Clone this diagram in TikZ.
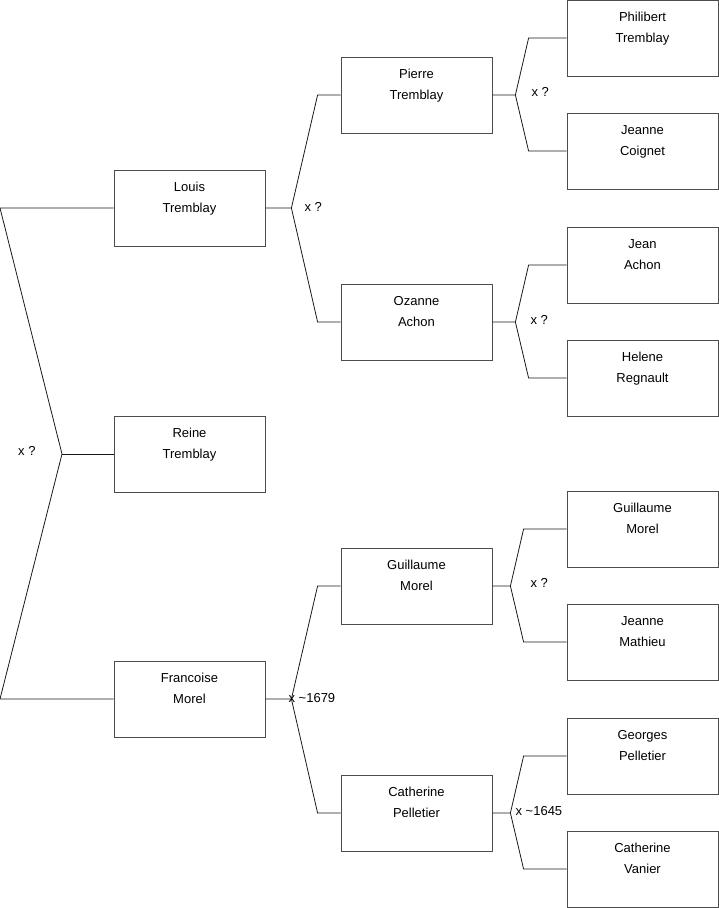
\documentclass[tikz,border=0pt]{standalone}
\usepackage{fontspec}
\setmainfont{Liberation Sans}
\usetikzlibrary{calc}
\tikzset{
  person/.style={draw=black!70, line width=0.8pt, minimum width=151pt,
    minimum height=76pt, inner sep=0pt, text width=151pt, align=center,
    font=\fontsize{13}{21}\selectfont},
  link/.style={draw=black!90, line width=0.8pt},
  wed/.style={anchor=west, inner sep=0pt, font=\fontsize{13}{15}\selectfont}
}
% one box per person: name, position, first name, family name
\newcommand{\person}[4]{%
  \node[person] (#1) at #2 {#3\\#4\\[-6pt]\strut};%
}
% parent to its two parents: parent, upper, lower, junction offset, bend offset
\newcommand{\couple}[5]{%
  \coordinate (#1-j) at ($(#1.east)+(#4,0)$);
  \draw[link] (#1.east) -- (#1-j) -- ($(#2.west)+(-#5,0)$) -- (#2.west);
  \draw[link] (#1-j) -- ($(#3.west)+(-#5,0)$) -- (#3.west);%
}

\begin{document}
\begin{tikzpicture}[x=1pt, y=-1pt]

  \useasboundingbox (0,0) rectangle (719,908);

  % first column
  \person{louis}{(189.5,208)}{Louis}{Tremblay}
  \person{reine}{(189.5,454)}{Reine}{Tremblay}
  \person{francoise}{(189.5,699)}{Francoise}{Morel}

  % second column
  \person{pierre}{(416.5,95)}{Pierre}{Tremblay}
  \person{ozanne}{(416.5,322)}{Ozanne}{Achon}
  \person{guillaume}{(416.5,586)}{Guillaume}{Morel}
  \person{catherinep}{(416.5,813)}{Catherine}{Pelletier}

  % third column
  \person{philibert}{(642.5,38)}{Philibert}{Tremblay}
  \person{coignet}{(642.5,151)}{Jeanne}{Coignet}
  \person{jean}{(642.5,265)}{Jean}{Achon}
  \person{helene}{(642.5,378)}{Helene}{Regnault}
  \person{gmorel}{(642.5,529)}{Guillaume}{Morel}
  \person{mathieu}{(642.5,642)}{Jeanne}{Mathieu}
  \person{georges}{(642.5,756)}{Georges}{Pelletier}
  \person{vanier}{(642.5,869)}{Catherine}{Vanier}

  % siblings on the left
  \coordinate (root-a) at (0,208);
  \coordinate (root-j) at (62,454);
  \coordinate (root-b) at (0,699);
  \draw[link] (louis.west) -- (root-a) -- (root-j) -- (root-b) -- (francoise.west);
  \draw[link] (root-j) -- (reine.west);
  \node[wed] (l-root) at (18,451) {x ?};

  % couples
  \couple{louis}{pierre}{ozanne}{26}{23}
  \couple{francoise}{guillaume}{catherinep}{26}{23}
  \couple{pierre}{philibert}{coignet}{23}{38}
  \couple{ozanne}{jean}{helene}{23}{38}
  \couple{guillaume}{gmorel}{mathieu}{18}{43}
  \couple{catherinep}{georges}{vanier}{18}{43}

  \node[wed] (l-louis) at ($(louis-j)+(13,-1)$) {x ?};
  \node[wed] (l-francoise) at ($(francoise-j)+(-3,-1)$) {x \textasciitilde 1679};
  \node[wed] (l-pierre) at ($(pierre-j)+(16,-3)$) {x ?};
  \node[wed] (l-ozanne) at ($(ozanne-j)+(15,-2)$) {x ?};
  \node[wed] (l-guillaume) at ($(guillaume-j)+(20,-3)$) {x ?};
  \node[wed] (l-catherinep) at ($(catherinep-j)+(5,-2)$) {x \textasciitilde 1645};

\end{tikzpicture}
\end{document}
